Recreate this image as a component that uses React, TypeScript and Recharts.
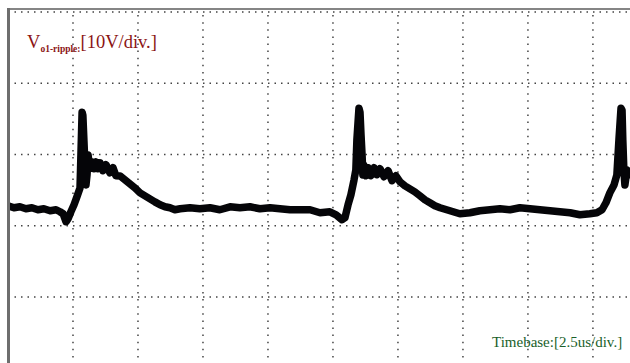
import { LineChart, Line, XAxis, YAxis, ReferenceLine } from 'recharts';

// time axis: 2.5 us per division (screen is cropped on the right)
const timeTicks = [2.5, 5, 7.5, 10, 12.5, 15, 17.5, 20, 22.5];
const timeDomain = [0, 25.08];
// voltage axis: 10 V per division (screen is cropped at the bottom)
const voltTicks = [-10, 0, 10, 20, 30];
const voltDomain = [-24.46, 30];

const timeUs = [
  // flat, dip, first spike
  0, 0.23, 0.46, 0.69, 0.92, 1.15, 1.38, 1.62, 1.85, 2.0, 2.12, 2.23, 2.31, 2.42, 2.54, 2.65, 2.77,
  2.81, 2.85, 2.88, 2.92, 2.96, 3.0, 3.04, 3.08,
  // first hump
  3.15, 3.23, 3.31, 3.38, 3.46, 3.54, 3.65, 3.77, 3.92, 4.04, 4.15,
  // decay and flat
  4.31, 4.5, 4.69, 4.88, 5.08, 5.27, 5.46, 5.65, 5.85, 6.04, 6.23, 6.42, 6.62, 7.0, 7.38, 7.77,
  8.15, 8.54, 8.92, 9.31, 9.69, 10.08, 10.46, 10.85, 11.23, 11.62, 12.0, 12.38, 12.62, 12.85, 12.96,
  // second spike
  13.08, 13.19, 13.31, 13.38, 13.42, 13.5, 13.54, 13.58, 13.62, 13.65, 13.69,
  // second hump
  13.77, 13.85, 13.96, 14.08, 14.19, 14.31, 14.46, 14.62, 14.77, 14.92,
  // decay and flat
  15.08, 15.27, 15.46, 15.65, 15.85, 16.04, 16.23, 16.42, 16.62, 17.0, 17.38, 17.77, 18.15, 18.54,
  18.92, 19.31, 19.69, 20.08, 20.46, 20.85, 21.23, 21.62, 22.0, 22.38, 22.65, 22.85,
  // third spike
  23.0, 23.15, 23.31, 23.42, 23.5, 23.58, 23.62, 23.65, 23.69, 23.73, 23.81, 23.88, 23.92,
];

const rippleV = [
  2.8, 2.52, 2.66, 2.38, 2.52, 2.24, 2.38, 2.1, 2.24, 1.96, 1.68, 0.56, 0.98, 1.96, 2.94, 4.05, 5.31,
  10.62, 15.94, 15.52, 12.02, 8.53, 5.73, 7.13, 9.92,
  8.0, 8.98, 8.0, 8.98, 8.0, 8.84, 7.72, 8.56, 7.44, 8.14, 7.02,
  6.99, 6.43, 5.87, 5.31, 4.61, 4.19, 3.77, 3.35, 2.94, 2.66, 2.52, 2.24, 2.38, 2.52, 2.38, 2.52,
  2.24, 2.66, 2.52, 2.66, 2.38, 2.52, 2.38, 2.24, 2.24, 2.24, 1.82, 1.96, 1.54, 0.84, 1.12,
  2.94, 4.33, 6.43, 7.83, 12.02, 16.49, 15.94, 12.72, 9.92, 7.13, 8.53,
  7.02, 8.14, 7.02, 8.14, 7.16, 8.0, 6.88, 7.72, 6.32, 7.02,
  6.15, 5.59, 5.17, 4.75, 4.19, 3.63, 3.22, 2.8, 2.52, 2.1, 1.68, 1.82, 2.1, 2.24,
  2.38, 2.24, 2.52, 2.38, 2.24, 2.1, 1.96, 1.82, 1.54, 1.68, 1.82, 2.24,
  3.22, 4.61, 5.73, 7.13, 12.02, 16.49, 16.21, 12.02, 7.83, 5.73, 7.83, 7.13, 7.55,
];

const data = timeUs.map((t, i) => ({ t, v: rippleV[i] }));

export default function App() {
  return (
    <div
      style={{
        position: 'absolute',
        left: 0,
        top: 0,
        width: 630,
        height: 363,
        overflow: 'hidden',
        background: '#fff',
      }}
    >
      <LineChart width={660} height={400} data={data} margin={{ top: 12, right: 0, bottom: 0, left: 8 }}>
        <XAxis type="number" dataKey="t" domain={timeDomain} hide allowDataOverflow />
        <YAxis type="number" domain={voltDomain} hide allowDataOverflow />
        {timeTicks.map((t) => (
          <ReferenceLine
            key={'x' + t}
            x={t}
            stroke="#444"
            strokeWidth={1.5}
            strokeDasharray="1.5 5.6"
          />
        ))}
        {voltTicks.map((v) => (
          <ReferenceLine
            key={'y' + v}
            y={v}
            stroke="#444"
            strokeWidth={1.5}
            strokeDasharray="1.5 5"
          />
        ))}
        <Line
          type="linear"
          dataKey="v"
          stroke="#050508"
          strokeWidth={7.5}
          strokeLinejoin="round"
          dot={false}
          isAnimationActive={false}
        />
      </LineChart>
      {/* screen frame */}
      <div style={{ position: 'absolute', left: 7, top: 8, width: 623, height: 2, background: '#858585' }} />
      <div style={{ position: 'absolute', left: 7, top: 8, width: 3, height: 355, background: '#6e6e6e' }} />
      <div
        style={{
          position: 'absolute',
          left: 27,
          top: 32,
          color: '#8b1414',
          fontFamily: '"Liberation Serif", serif',
          fontSize: 18.5,
          whiteSpace: 'nowrap',
        }}
      >
        V
        <sub style={{ fontSize: 9.5, fontWeight: 'bold', verticalAlign: -4 }}>o1-ripple:</sub>
        [10V/div.]
      </div>
      <div
        style={{
          position: 'absolute',
          left: 492,
          top: 334,
          color: '#1a5f2a',
          fontFamily: '"Liberation Serif", serif',
          fontSize: 15,
          whiteSpace: 'nowrap',
        }}
      >
        Timebase:[2.5us/div.]
      </div>
    </div>
  );
}
